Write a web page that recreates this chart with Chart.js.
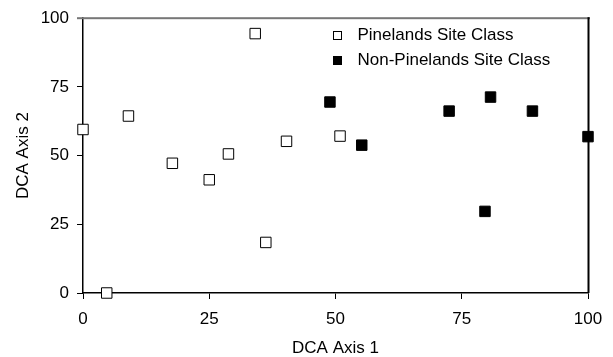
<!DOCTYPE html>
<html>
<head>
<meta charset="utf-8">
<script src="https://cdn.jsdelivr.net/npm/chart.js@4/dist/chart.umd.min.js"></script>
<style>
  html, body { margin: 0; padding: 0; background: #fff; }
  #wrap { width: 613px; height: 357px; }
</style>
</head>
<body>
<div id="wrap"><canvas id="c" width="613" height="357"></canvas></div>
<script>
// DCA ordination scores per site, split by site class
const pinelandsX = [0, 9, 17.7, 25, 28.8, 34.1, 40.3, 50.9, 36.2, 4.7];
const pinelandsY = [59.5, 64.4, 47.2, 41.2, 50.6, 94.4, 55.2, 57.1, 18.4, 0];
const nonPinelandsX = [48.9, 55.2, 72.5, 80.7, 89.0, 100, 79.6];
const nonPinelandsY = [69.5, 53.8, 66.2, 71.3, 66.2, 56.9, 29.7];
const seriesNames = ['Pinelands Site Class', 'Non-Pinelands Site Class'];
const axisTicks = [0, 25, 50, 75, 100];
const xTitle = 'DCA Axis 1';
const yTitle = 'DCA Axis 2';

const FONT = 'Liberation Sans, Arial, sans-serif';
const toPoints = (xs, ys) => xs.map((x, i) => ({ x: x, y: ys[i] }));

// Plot frame edges plus a stacked legend inside the plot area
const insideLegend = {
  id: 'insideLegend',
  afterDraw(chart) {
    const ctx = chart.ctx;
    const a = chart.chartArea;
    ctx.save();
    ctx.fillStyle = '#777777';
    ctx.fillRect(a.left - 6, a.top - 1, a.right - a.left + 8, 2);
    ctx.fillStyle = '#000000';
    ctx.fillRect(a.right - 0.5, a.top - 1, 2, a.bottom - a.top + 1);

    ctx.font = '17px ' + FONT;
    ctx.textBaseline = 'middle';
    ctx.textAlign = 'left';
    chart.data.datasets.forEach((ds, i) => {
      const cy = a.top + 17 + i * 25;
      const cx = a.left + 254;
      const s = 8;
      ctx.fillStyle = ds.backgroundColor;
      ctx.fillRect(cx - s / 2, cy - s / 2, s, s);
      ctx.strokeStyle = '#000';
      ctx.lineWidth = 1;
      ctx.strokeRect(Math.round(cx - s / 2) + 0.5, Math.round(cy - s / 2) + 0.5, s, s);
      ctx.fillStyle = '#000';
      ctx.fillText(ds.label, a.left + 274.5, cy);
    });
    ctx.restore();
  }
};

new Chart(document.getElementById('c'), {
  type: 'scatter',
  data: {
    datasets: [
      {
        label: seriesNames[0],
        data: toPoints(pinelandsX, pinelandsY),
        pointStyle: 'rect',
        pointRadius: 7.4,
        pointHoverRadius: 7.4,
        backgroundColor: '#ffffff',
        borderColor: '#000000',
        borderWidth: 1,
        clip: false
      },
      {
        label: seriesNames[1],
        data: toPoints(nonPinelandsX, nonPinelandsY),
        pointStyle: 'rect',
        pointRadius: 7.4,
        pointHoverRadius: 7.4,
        backgroundColor: '#000000',
        borderColor: '#000000',
        borderWidth: 1,
        clip: false
      }
    ]
  },
  options: {
    responsive: false,
    animation: false,
    devicePixelRatio: 1,
    layout: { padding: { left: 0, right: 25, top: 16, bottom: 0 } },
    plugins: { legend: { display: false }, tooltip: { enabled: false } },
    scales: {
      x: {
        type: 'linear',
        min: 0, max: 100,
        afterBuildTicks(scale) { scale.ticks = axisTicks.map(v => ({ value: v })); },
        afterFit(scale) { scale.height = 64; },
        grid: { display: true, drawOnChartArea: false, drawTicks: true, tickLength: 6, color: '#000' },
        border: { display: true, color: '#000', width: 1.5 },
        ticks: { color: '#000', font: { family: FONT, size: 17 }, padding: 10, maxRotation: 0 },
        title: { display: true, text: xTitle, color: '#000', font: { family: FONT, size: 17, lineHeight: 1.0 }, padding: { top: 0, bottom: 0 } }
      },
      y: {
        type: 'linear',
        min: 0, max: 100,
        afterBuildTicks(scale) { scale.ticks = axisTicks.map(v => ({ value: v })); },
        afterFit(scale) { scale.width = 83; },
        grid: { display: true, drawOnChartArea: false, drawTicks: true, tickLength: 6, color: '#000' },
        border: { display: true, color: '#000', width: 1.5 },
        ticks: { color: '#000', font: { family: FONT, size: 17 }, padding: 8 },
        title: { display: true, text: yTitle, color: '#000', font: { family: FONT, size: 17 }, padding: { top: 13, bottom: 0 } }
      }
    }
  },
  plugins: [insideLegend]
});
</script>
</body>
</html>
